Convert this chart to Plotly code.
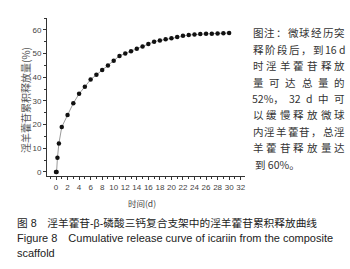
import plotly.graph_objects as go

days = [0, 0.1, 0.25, 0.5, 1, 2, 3, 4, 5, 6, 7, 8, 9, 10, 11, 12, 13, 14, 15, 16,
        17, 18, 19, 20, 21, 22, 23, 24, 25, 26, 27, 28, 29, 30]
release = [0, 0, 6, 12, 19, 24, 29, 33, 36, 39, 41, 43, 45, 47, 49, 50, 51, 52, 53, 54,
           55, 55.5, 56, 56.5, 57, 57.5, 57.8, 58, 58.2, 58.3, 58.4, 58.5, 58.6, 58.7]
x_ticks = list(range(0, 33, 2))
y_ticks = list(range(0, 61, 10))
note_lines = [["图", "注", "：", "微", "球", "经", "历", "突"],
              ["释", "阶", "段", "后", "，", "到", "16 d"],
              ["时", "淫", "羊", "藿", "苷", "释", "放"],
              ["量", "可", "达", "总", "量", "的"],
              ["52%，", "32", "d", "中", "可"],
              ["以", "缓", "慢", "释", "放", "微", "球"],
              ["内", "淫", "羊", "藿", "苷", "，", "总", "淫"],
              ["羊", "藿", "苷", "释", "放", "量", "达"],
              ["到 60%。"]]
captions = ["图 8　淫羊藿苷-β-磷酸三钙复合支架中的淫羊藿苷累积释放曲线",
            "Figure 8　Cumulative release curve of icariin from the composite",
            "scaffold"]

W, H = 350, 269
L, R, T, B = 47, 245, 18, 176

def px(x):
    return (x - L) / (R - L)

def py(y):
    return (B - y) / (B - T)

fig = go.Figure()
fig.add_trace(go.Scatter(
    x=days, y=release, mode="lines+markers",
    line=dict(color="#9a9a9a", width=1),
    marker=dict(color="#111111", size=4.5, symbol="circle"),
    showlegend=False, cliponaxis=False))

tickfont = dict(family="Liberation Sans, Arial", size=8, color="#444")
fig.update_xaxes(range=[-1.56, 32.75], tickvals=x_ticks, ticks="outside", ticklen=3,
                 tickwidth=1, tickcolor="#333", showline=True, linecolor="#333",
                 linewidth=1, showgrid=False, zeroline=False, tickfont=tickfont,
                 minor=dict(dtick=1, tick0=0, ticks="outside", ticklen=2, tickcolor="#333",
                            showgrid=False))
fig.update_yaxes(range=[-1.7, 65], tickvals=y_ticks, ticks="outside", ticklen=3,
                 tickwidth=1, tickcolor="#333", showline=True, linecolor="#333",
                 linewidth=1, showgrid=False, zeroline=False, tickfont=tickfont,
                 minor=dict(dtick=5, tick0=0, ticks="outside", ticklen=2, tickcolor="#333",
                            showgrid=False))

cjk = "Noto Sans CJK SC"
ann = []
ann.append(dict(text="淫羊藿苷累积释放量(%)", x=px(25), y=py(100), textangle=-90,
                font=dict(family=cjk, size=10, color="#555")))
ann.append(dict(text="时间(d)", x=px(142), y=py(203),
                font=dict(family=cjk, size=8.5, color="#444")))

# justified note text, token by token
FS = 10.5
def tok_w(t):
    w = 0
    for ch in t:
        if ord(ch) > 0x2000:
            w += 1.0
        elif ch == " ":
            w += 0.25
        elif ch == "%":
            w += 0.8
        else:
            w += 0.55
    return w * FS

NX0, NX1 = 253, 345
for i, toks in enumerate(note_lines):
    yy = py(33 + i * 16.4)
    if len(toks) == 1:
        ann.append(dict(text=toks[0], x=px(NX0), y=yy, xanchor="left",
                        font=dict(family=cjk, size=FS, color="#333")))
        continue
    widths = [tok_w(t) for t in toks]
    gap = (NX1 - NX0 - sum(widths)) / (len(toks) - 1)
    xc = NX0
    for t, w in zip(toks, widths):
        ann.append(dict(text=t, x=px(xc + w / 2), y=yy, xanchor="center",
                        font=dict(family=cjk, size=FS, color="#333")))
        xc += w + gap

cap_y = [223, 238, 253]
cap_size = [10.7, 11, 11]
for t, yy, fs in zip(captions, cap_y, cap_size):
    ann.append(dict(text=t, x=px(15), y=py(yy), xanchor="left",
                    font=dict(family="Liberation Sans, " + cjk, size=fs, color="#222")))

for a in ann:
    a.update(xref="paper", yref="paper", showarrow=False, yanchor="middle")
    a.setdefault("xanchor", "center")

fig.update_layout(width=W, height=H, margin=dict(l=L, r=W - R, t=T, b=H - B),
                  paper_bgcolor="white", plot_bgcolor="white", annotations=ann)
fig.write_html("out.html", config={"displayModeBar": False},
               post_script="document.body.style.margin='0';document.body.style.padding='0';")
